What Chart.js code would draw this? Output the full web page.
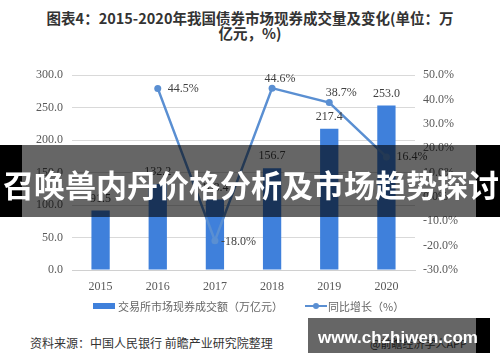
<!DOCTYPE html>
<html>
<head>
<meta charset="utf-8">
<script src="https://cdn.jsdelivr.net/npm/chart.js@4.4.0/dist/chart.umd.min.js"></script>
<style>
  body { margin: 0; background: #fff; }
  #wrap { position: relative; width: 500px; height: 362px; overflow: hidden; background: #fff; font-family: "Noto Sans CJK SC", sans-serif; }
  #title { position: absolute; left: 0; top: 10px; width: 500px; text-align: center; font-size: 14.5px; font-weight: bold; color: #333; line-height: 15px; }
  #chart-area { position: absolute; left: 0; top: 0; width: 500px; height: 300px; }
  .legend { position: absolute; top: 298px; font-size: 11px; color: #666; line-height: 16px; white-space: nowrap; }
  .swatch-bar { position: absolute; left: 93px; top: 303px; width: 22px; height: 6px; background: #3f80db; }
  .swatch-line { position: absolute; left: 305px; top: 304.5px; width: 22px; height: 2.5px; background: #5a8fd2; }
  .swatch-dot { position: absolute; left: 313px; top: 303px; width: 6px; height: 6px; border-radius: 3px; background: #5a8fd2; }
  #source { position: absolute; left: 30px; top: 335px; font-size: 12px; color: #333; line-height: 16px; white-space: nowrap; }
  #app { position: absolute; left: 370px; top: 336px; font-size: 11px; color: #444; line-height: 14px; white-space: nowrap; }
  #banner-l { position: absolute; left: 0; top: 145px; width: 22px; height: 72px; background: #000; }
  #banner-r { position: absolute; left: 476px; top: 145px; width: 24px; height: 72px; background: #000; }
  #banner-m { position: absolute; left: 22px; top: 145px; width: 454px; height: 72px; background: rgba(0,0,0,0.6); }
  #banner-t { position: absolute; left: 3px; top: 148px; width: 500px; font-size: 31px; font-weight: bold; color: #fff; line-height: 72px; white-space: nowrap; }
  #wm-m { position: absolute; left: 308px; top: 318px; width: 168px; height: 35px; background: rgba(0,0,0,0.6); }
  #wm-r { position: absolute; left: 476px; top: 318px; width: 14px; height: 35px; background: #000; }
  #wm-t { position: absolute; left: 318px; top: 318px; font-family: "Liberation Sans", sans-serif; font-size: 17px; font-weight: bold; color: #fff; line-height: 40px; white-space: nowrap; }
</style>
</head>
<body>
<div id="wrap">
  <div id="title">图表4：2015-2020年我国债券市场现券成交量及变化(单位：万<br>亿元，%)</div>
  <div id="chart-area"><canvas id="myChart" width="500" height="300"></canvas></div>
  <div class="swatch-bar"></div>
  <div class="legend" style="left:118px;">交易所市场现券成交额（万亿元）</div>
  <div class="swatch-line"></div>
  <div class="swatch-dot"></div>
  <div class="legend" style="left:328px;">同比增长（%）</div>
  <div id="source">资料来源：中国人民银行 前瞻产业研究院整理</div>
  <div id="app">@前瞻经济学人APP</div>
  <div id="banner-l"></div>
  <div id="banner-m"></div>
  <div id="banner-r"></div>
  <div id="banner-t">召唤兽内丹价格分析及市场趋势探讨</div>
  <div id="wm-m"></div>
  <div id="wm-r"></div>
  <div id="wm-t">www.chzhiwen.com</div>
</div>
<script>
var years = ['2015', '2016', '2017', '2018', '2019', '2020'];
var volume = [91.5, 132.2, 108.4, 156.7, 217.4, 253.0];
var growth = [null, 44.5, -18.0, 44.6, 38.7, 16.4];
var leftTicks = [0, 50, 100, 150, 200, 250, 300];
var rightTicks = [-30, -20, -10, 0, 10, 20, 30, 40, 50];

// where each growth label sits relative to its point
var growthLabelPos = [
  null,
  { dx: 10, dy: 0, align: 'left' },
  { dx: 6, dy: 1, align: 'left' },
  { dx: 8, dy: -9, align: 'center' },
  { dx: 12, dy: -10, align: 'center' },
  { dx: 10, dy: 0, align: 'left' }
];

var valueLabels = {
  id: 'valueLabels',
  afterDatasetsDraw: function(chart) {
    var ctx = chart.ctx;
    ctx.save();
    ctx.font = '12px "Liberation Serif", serif';
    ctx.fillStyle = '#404040';

    var barMeta = chart.getDatasetMeta(0);
    barMeta.data.forEach(function(el, i) {
      ctx.textAlign = 'center';
      ctx.textBaseline = 'middle';
      ctx.fillText(volume[i].toFixed(1), el.x, el.y - 12);
    });

    var lineMeta = chart.getDatasetMeta(1);
    lineMeta.data.forEach(function(el, i) {
      if (growth[i] === null) return;
      var p = growthLabelPos[i];
      ctx.textAlign = p.align;
      ctx.textBaseline = 'middle';
      ctx.fillText(growth[i].toFixed(1) + '%', el.x + p.dx, el.y + p.dy);
    });
    ctx.restore();
  }
};

var tickFont = { family: '"Liberation Serif", serif', size: 12 };

var chartdata = {
  labels: years,
  datasets: [
    {
      type: 'bar',
      label: '交易所市场现券成交额（万亿元）',
      data: volume,
      backgroundColor: '#3f80db',
      categoryPercentage: 1.0,
      barPercentage: 0.32,
      yAxisID: 'y',
      order: 2
    },
    {
      type: 'line',
      label: '同比增长（%）',
      data: growth,
      borderColor: '#5a8fd2',
      backgroundColor: '#5a8fd2',
      borderWidth: 2.5,
      pointRadius: 3.5,
      pointBackgroundColor: '#5a8fd2',
      pointBorderWidth: 0,
      tension: 0,
      yAxisID: 'y1',
      order: 1
    }
  ]
};

var myChart = new Chart(document.getElementById('myChart'), {
  data: chartdata,
  plugins: [valueLabels],
  options: {
    responsive: false,
    animation: false,
    layout: { padding: { top: 75, left: 0, right: 0, bottom: 0 } },
    plugins: {
      legend: { display: false },
      tooltip: { enabled: false }
    },
    scales: {
      x: {
        grid: { display: false },
        border: { color: '#d0d0d0' },
        ticks: { color: '#595959', font: tickFont, padding: 2 },
        afterFit: function(scale) { scale.height = 30; }
      },
      y: {
        position: 'left',
        min: 0,
        max: 300,
        afterBuildTicks: function(scale) {
          scale.ticks = leftTicks.map(function(v) { return { value: v }; });
        },
        grid: { color: '#d9d9d9', drawTicks: false },
        border: { display: false },
        ticks: {
          color: '#595959', font: tickFont, padding: 9,
          callback: function(v) { return v.toFixed(1); }
        },
        afterFit: function(scale) { scale.width = 72; }
      },
      y1: {
        position: 'right',
        min: -30,
        max: 50,
        afterBuildTicks: function(scale) {
          scale.ticks = rightTicks.map(function(v) { return { value: v }; });
        },
        grid: { display: false, drawTicks: false },
        border: { display: false },
        ticks: {
          color: '#595959', font: tickFont, padding: 8,
          callback: function(v) { return v.toFixed(1) + '%'; }
        },
        afterFit: function(scale) { scale.width = 85; }
      }
    }
  }
});
</script>
</body>
</html>
